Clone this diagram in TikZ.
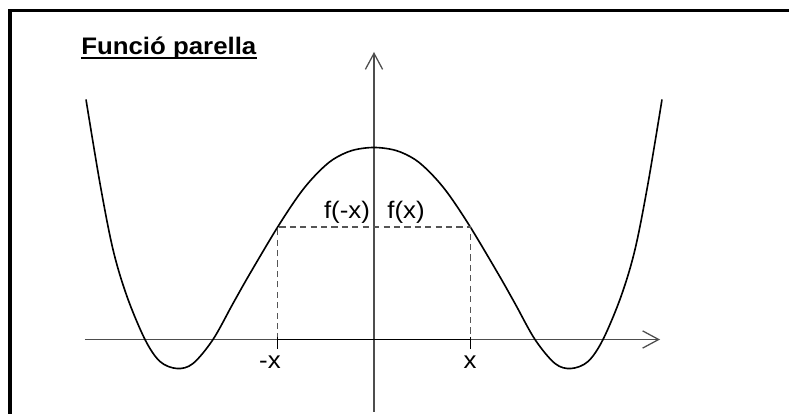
\documentclass[tikz,border=0pt]{standalone}
\usepackage{fontspec}
\setmainfont{Liberation Sans}
\usetikzlibrary{arrows.meta}
\definecolor{axisgray}{HTML}{4D4D4D}
\definecolor{dashgray}{HTML}{555555}

\begin{document}
\begin{tikzpicture}[
  x=0.025cm, y=0.025cm,
  axisline/.style={draw=axisgray, line width=1.25pt,
    -{Straight Barb[length=0.4cm, width=0.43cm, line width=0.9pt]}},
  curveline/.style={draw=black, line width=1.15pt},
  guide/.style={draw=dashgray, line width=1pt, dash pattern=on 4.4pt off 3pt},
  tickmark/.style={draw=black, line width=1.1pt},
  lbl/.style={font=\fontsize{17}{20}\selectfont, xscale=1.08, inner sep=0pt},
]
\useasboundingbox (-374,-74.5) rectangle (415,339.5);
% frame (only left and top edges visible)
\draw[line width=2.35pt] (-364,-80) -- (-364,328.8) -- (420,328.8);

% title
\node[lbl, font=\fontsize{17}{20}\selectfont\bfseries, anchor=base west] (title) at (-293,285.2) {Funció parella};
\draw[line width=1.4pt] ([yshift=-2.85pt]title.base west) -- ([yshift=-2.85pt]title.base east);

% axes
\coordinate (xl) at (-289,0);
\coordinate (xr) at (286,0);
\coordinate (yb) at (0,-72);
\coordinate (yt) at (0,287.5);
\draw[axisline] (xl) -- (xr);
\draw[axisline] (yb) -- (yt);

% even function
\draw[curveline] plot[smooth, tension=0.55] coordinates {
  (-288,240) (-274,156) (-261,90) (-247,43) (-229,0) (-214,-22) (-197,-29)
  (-181,-24) (-161,0) (-141,36) (-124,66) (-96,113) (-74,146) (-57,166)
  (-41,180) (-22,189) (0,192)
  (22,189) (41,180) (57,166) (74,146) (96,113) (124,66) (141,36) (161,0)
  (181,-24) (197,-29) (214,-22) (229,0) (247,43) (261,90) (274,156) (288,240)};

% -x and x with their values
\coordinate (mA) at (-96.5,0);
\coordinate (pA) at (96.5,0);
\coordinate (mF) at (-96.5,112.5);
\coordinate (pF) at (96.5,112.5);
\draw[guide] (mA) -- (mF) -- (pF) -- (pA);
\draw[line width=1.35pt] (mA) -- (pA);
\foreach \c in {mA,pA} {
  \draw[tickmark] ([yshift=2.1pt]\c) -- ([yshift=-6.4pt]\c);
}
\node[lbl, anchor=base] (mx) at (-104,-29) {-x};
\node[lbl, anchor=base] (px) at (96,-29) {x};
\node[lbl, anchor=base] (fmx) at (-27,121) {f(-x)};
\node[lbl, anchor=base] (fpx) at (32,121) {f(x)};
\end{tikzpicture}
\end{document}
